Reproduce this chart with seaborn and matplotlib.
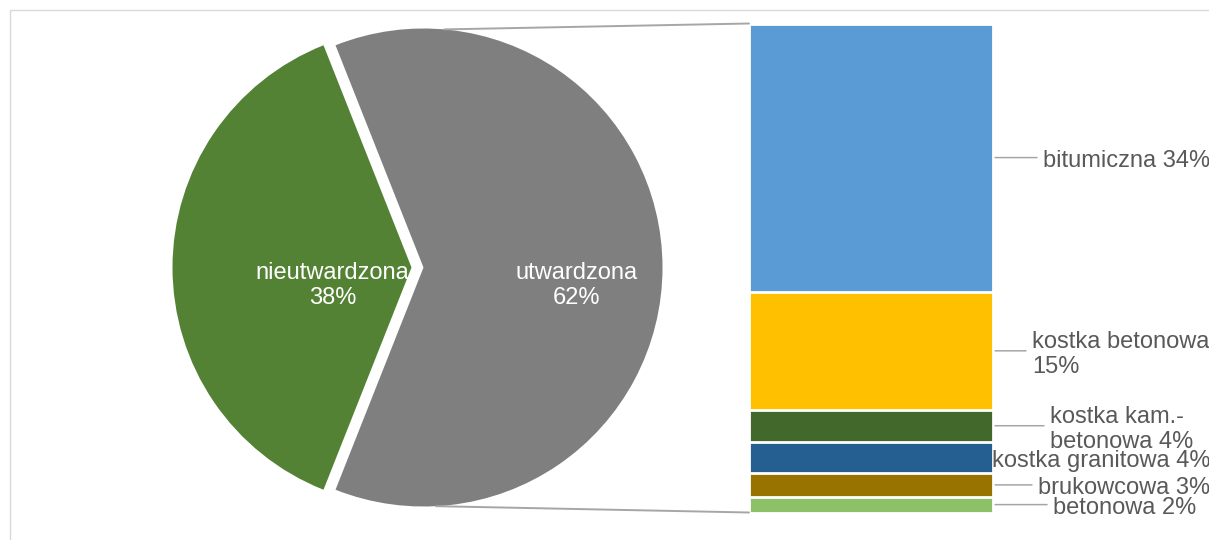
import numpy as np
import pandas as pd

import matplotlib.pyplot as plt
import seaborn as sns
from matplotlib.patches import ConnectionPatch, Rectangle

# --- data -------------------------------------------------------------
pie_labels = ["nieutwardzona", "utwardzona"]
pie_values = [38, 62]
pie_colors = ["#548235", "#7F7F7F"]

# stack of "utwardzona", top to bottom
bar_labels = ["bitumiczna", "kostka betonowa", "kostka kam.-\nbetonowa",
              "kostka granitowa", "brukowcowa", "betonowa"]
bar_values = [34, 15, 4, 4, 3, 2]
bar_colors = ["#5B9BD5", "#FFC000", "#43682B", "#255E91", "#997300", "#8CC168"]

# --- layout / style (pixels of the 1209x540 canvas) --------------------
W, H = 1209, 540
PX = 0.72                      # pixel -> point at dpi 100
label_sep = [" ", "\n", " ", " ", " ", " "]
label_left = [1043, 1032, 1050, 992, 1038, 1053]
has_leader = [True, True, True, False, True, True]
text_grey = "#595959"
line_grey = "#A6A6A6"
FS = 17

sns.set_theme(style="white")
plt.rcParams["font.family"] = ["Liberation Sans", "DejaVu Sans"]

fig = plt.figure(figsize=(W / 100, H / 100), dpi=100)

# chart frame (cut off at right and bottom like the screenshot)
fig.add_artist(Rectangle((9.5 / W, -0.1), 1.2, (H - 9.5) / H + 0.1,
                         transform=fig.transFigure, fill=False,
                         edgecolor="#D9D9D9", lw=1))

### Pie, in pixel coordinates
ax = fig.add_axes([0, 0, 1, 1])
cx, cy, r = 417.5, H - 267.5, 239
start = 180 - pie_values[0] / sum(pie_values) * 360 / 2
wedges, _ = ax.pie(pie_values, colors=pie_colors, startangle=start,
                   explode=[6, 6], center=(cx, cy), radius=r,
                   wedgeprops=dict(linewidth=0))
ax.set_xlim(0, W)
ax.set_ylim(0, H)
ax.set_aspect("equal")
ax.axis("off")

for w, lab, v, frac in zip(wedges, pie_labels, pie_values, [0.33, 0.64]):
    th = np.deg2rad((w.theta1 + w.theta2) / 2)
    x = w.center[0] + frac * r * np.cos(th)
    y = w.center[1] + frac * r * np.sin(th) - 18
    ax.text(x, y, f"{lab}\n{v}%", color="white", fontsize=FS,
            ha="center", va="center", multialignment="center")

### Stacked bar (overlapping cumulative bars)
bax = fig.add_axes([749 / W, (H - 512.5) / H, 244 / W, 489 / H])
tops = np.cumsum(bar_values[::-1])[::-1]
df = pd.DataFrame({"x": 0, "top": tops, "kat": bar_labels})
sns.barplot(data=df, x="x", y="top", hue="kat", hue_order=bar_labels,
            palette=dict(zip(bar_labels, bar_colors)), dodge=False,
            saturation=1, width=1, edgecolor="white", linewidth=2,
            errorbar=None, legend=False, ax=bax)
bax.set_xlim(-0.5, 0.5)
bax.set_ylim(0, sum(bar_values))
bax.axis("off")

for lab, sep, v, top, left, lead in zip(bar_labels, label_sep, bar_values,
                                        tops, label_left, has_leader):
    mid = top - v / 2
    # leader line, horizontal at the segment middle
    if lead:
        bax.annotate("", xy=(0.5, mid), xycoords="data",
                     xytext=((left - 999) * PX, 0), textcoords="offset points",
                     arrowprops=dict(arrowstyle="-", color=line_grey, lw=1.1,
                                     shrinkA=0, shrinkB=1.5),
                     annotation_clip=False)
    bax.annotate(f"{lab}{sep}{v}%", xy=(0.5, mid), xycoords="data",
                 xytext=((left - 993) * PX, -3.5 * PX),
                 textcoords="offset points",
                 ha="left", va="center", fontsize=FS, color=text_grey,
                 annotation_clip=False)

### Connector lines from the "utwardzona" slice to the bar
gw = wedges[1]
for ang, corner in [(85, (0, 1)), (-87, (0, 0))]:
    a = np.deg2rad(ang)
    p = (gw.center[0] + r * np.cos(a), gw.center[1] + r * np.sin(a))
    con = ConnectionPatch(xyA=p, coordsA=ax.transData, xyB=corner,
                          coordsB=bax.transAxes, color=line_grey, lw=1.4)
    fig.add_artist(con)

plt.savefig("out.png", dpi=100)
